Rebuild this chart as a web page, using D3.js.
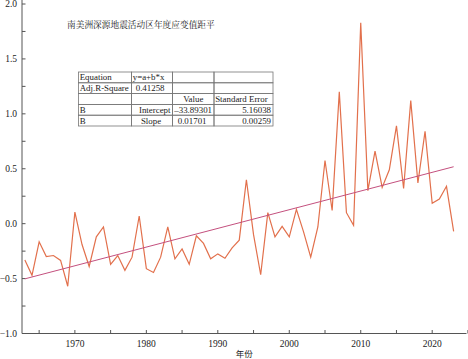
<!DOCTYPE html>
<html><head><meta charset="utf-8">
<script src="https://cdn.jsdelivr.net/npm/d3@7"></script>
<style>
html,body{margin:0;padding:0;background:#fff;}
svg{display:block;}
</style></head>
<body>
<script>
const years = d3.range(1963, 2024);
const anomaly = [
 -0.33,-0.47,-0.165,-0.30,-0.29,-0.335,-0.57,0.105,-0.19,-0.39,
 -0.12,-0.03,-0.37,-0.29,-0.425,-0.305,0.07,-0.41,-0.445,-0.305,
 -0.03,-0.32,-0.23,-0.37,-0.11,-0.18,-0.32,-0.275,-0.315,-0.22,
 -0.15,0.40,-0.10,-0.465,0.10,-0.12,-0.025,-0.12,0.13,-0.075,
 -0.305,-0.03,0.575,0.12,1.20,0.10,-0.015,1.83,0.30,0.66,
 0.33,0.49,0.89,0.32,1.12,0.37,0.84,0.185,0.225,0.34,-0.07
];
const fitIntercept = -33.89301;
const fitSlope = 0.01701;
const xTicks = [1970, 1980, 1990, 2000, 2010, 2020];
const xMinorTicks = [1965, 1975, 1985, 1995, 2005, 2015, 2025];
const yTicks = [-1.0, -0.5, 0.0, 0.5, 1.0, 1.5, 2.0];
const yMinorTicks = [-0.75, -0.25, 0.25, 0.75, 1.25, 1.75];
const title = "南美洲深源地震活动区年度应变值距平";
const xTitle = "年份";
const tableRows = [
  ["Equation", "y=a+b*x", "", ""],
  ["Adj.R-Square", "0.41258", "", ""],
  ["", "", "Value", "Standard Error"],
  ["B", "Intercept", "–33.89301", "5.16038"],
  ["B", "Slope", "0.01701", "0.00259"]
];

const W = 468, H = 359;
const svg = d3.select("body").append("svg").attr("width", W).attr("height", H);
const x = d3.scaleLinear().domain([1962.6, 2024.8]).range([22, 466.5]);
const y = d3.scaleLinear().domain([-1, 2]).range([333.5, 4]);
const axisColor = "#555";
const serif = "'Liberation Serif','Times New Roman',serif";

// axes
const gx = svg.append("g").attr("transform", `translate(0,${y(-1)})`);
gx.append("line").attr("x1", x.range()[0]).attr("x2", x.range()[1]).attr("stroke", axisColor);
gx.selectAll("line.t").data(xTicks.concat(xMinorTicks)).join("line").attr("class","t")
  .attr("x1", d => x(d)).attr("x2", d => x(d)).attr("y1", 0).attr("y2", -3.5).attr("stroke", axisColor);
gx.selectAll("text").data(xTicks).join("text")
  .attr("x", d => x(d)).attr("y", 13.5).attr("text-anchor", "middle")
  .attr("font-family", serif).attr("font-size", 9.5).attr("fill", "#222").text(d => d);

const gy = svg.append("g").attr("transform", `translate(${x.range()[0]},0)`);
gy.append("line").attr("y1", y(-1)).attr("y2", 0).attr("stroke", axisColor);
gy.selectAll("line.t").data(yTicks.concat(yMinorTicks)).join("line").attr("class","t")
  .attr("y1", d => y(d)).attr("y2", d => y(d)).attr("x1", 0).attr("x2", 3.5).attr("stroke", axisColor);
gy.selectAll("text").data(yTicks).join("text")
  .attr("x", -5).attr("y", d => y(d)).attr("dy", "0.35em").attr("text-anchor", "end")
  .attr("font-family", serif).attr("font-size", 9.5).attr("fill", "#222").text(d => d3.format(".1f")(d).replace("-", "−"));

// data line
const pts = years.map((yr, i) => [yr, anomaly[i]]);
svg.append("path").datum(pts)
  .attr("d", d3.line().x(d => x(d[0])).y(d => y(d[1])))
  .attr("fill", "none").attr("stroke", "#e2704c").attr("stroke-width", 1.2);

// trend line
const fx = [years[0], years[years.length - 1]];
svg.append("path").datum(fx.map(v => [v, fitIntercept + fitSlope * v]))
  .attr("d", d3.line().x(d => x(d[0])).y(d => y(d[1])))
  .attr("fill", "none").attr("stroke", "#c4507e").attr("stroke-width", 1);

// title
svg.append("text").attr("x", 67).attr("y", 28)
  .attr("font-family", "'Noto Serif CJK SC','Noto Sans CJK SC',serif").attr("font-size", 8.7)
  .attr("fill", "#222").text(title);

// x axis title
svg.append("text").attr("x", (x.range()[0] + x.range()[1]) / 2).attr("y", 356.5)
  .attr("text-anchor", "middle").attr("font-family", "'Noto Sans CJK SC',sans-serif")
  .attr("font-size", 8.5).attr("fill", "#222").text(xTitle);

// table
const colX = [78.5, 131.5, 172.5, 214, 273];
const rowY = d3.range(6).map(i => 72 + i * 10.8);
const align = [
  ["start","start","",""],
  ["start","start","",""],
  ["","","middle","start"],
  ["start","end","end","end"],
  ["start","middle","start","end"]
];
const tg = svg.append("g");
tableRows.forEach((row, r) => {
  row.forEach((txt, c) => {
    tg.append("rect").attr("x", colX[c]).attr("y", rowY[r])
      .attr("width", colX[c+1]-colX[c]).attr("height", rowY[r+1]-rowY[r])
      .attr("fill", "none").attr("stroke", "#777").attr("stroke-width", 0.8);
    if (!txt) return;
    const a = align[r][c];
    let tx = a === "start" ? colX[c] + 1.2 : a === "end" ? colX[c+1] - 2 : (colX[c] + colX[c+1]) / 2;
    if (r === 1 && c === 1) tx += 3;
    if (r === 4 && c === 2) tx += 4;
    if (r === 4 && c === 1) tx -= 1;
    tg.append("text").attr("x", tx).attr("y", rowY[r] + 8.4).attr("text-anchor", a)
      .attr("font-family", serif).attr("font-size", 8.9).attr("fill", "#222").text(txt);
  });
});
</script>
</body></html>
